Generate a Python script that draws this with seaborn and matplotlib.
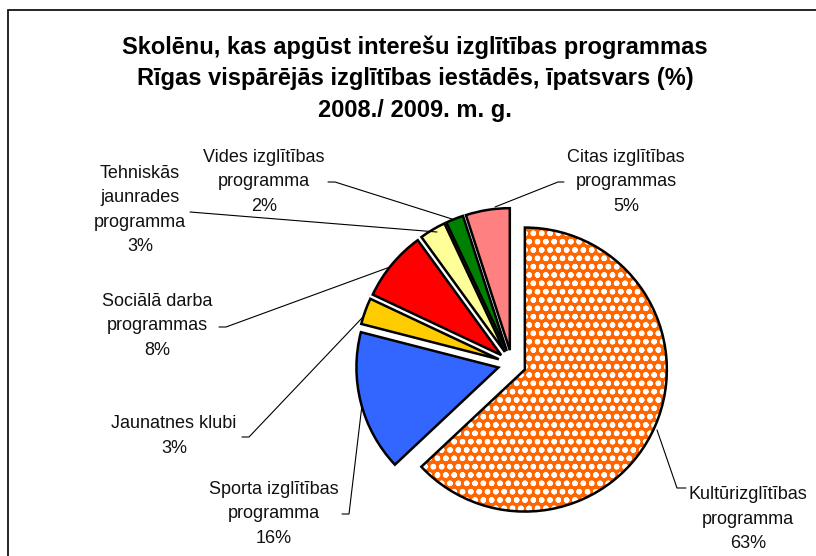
import matplotlib
matplotlib.use("Agg")
import matplotlib.pyplot as plt
import seaborn as sns
from matplotlib.patches import Rectangle

# ---- data ----
categories = [
    "Kultūrizglītības\nprogramma",
    "Sporta izglītības\nprogramma",
    "Jaunatnes klubi",
    "Sociālā darba\nprogrammas",
    "Tehniskās\njaunrades\nprogramma",
    "Vides izglītības\nprogramma",
    "Citas izglītības\nprogrammas",
]
values = [63, 16, 3, 8, 3, 2, 5]
colors = ["#FF6600", "#3366FF", "#FFCC00", "#FF0000", "#FFFF99", "#008000", "#FF8080"]
title_lines = [
    "Skolēnu, kas apgūst interešu izglītības programmas",
    "Rīgas vispārējās izglītības iestādēs, īpatsvars (%)",
    "2008./ 2009. m. g.",
]

sns.set_theme(style="white")
plt.rcParams["font.family"] = ["Liberation Sans", "DejaVu Sans"]
plt.rcParams["hatch.color"] = "white"
plt.rcParams["hatch.linewidth"] = 1.6

W, H = 816, 556
fig = plt.figure(figsize=(W / 100, H / 100), dpi=100)
ax = fig.add_axes([0, 0, 1, 1])

center = (512, H - 364)
radius = 142
explode = [14] * len(values)

# fill layer
wedges, _ = ax.pie(values, colors=colors, startangle=90, counterclock=False,
                   explode=explode, radius=radius, center=center,
                   wedgeprops=dict(linewidth=0, edgecolor="white"), frame=True)
wedges[0].set_hatch("oo")
# outline layer
ax.pie(values, colors=["none"] * len(values), startangle=90, counterclock=False,
       explode=explode, radius=radius, center=center,
       wedgeprops=dict(linewidth=1.8, edgecolor="black", facecolor="none"), frame=True)
ax.set_xlim(0, W)
ax.set_ylim(0, H)
ax.set_aspect("equal")
ax.axis("off")

# labels (text center, leader polyline) in pixel coords (y from top)
label_pos = [
    (748, 519), (274, 514), (174, 436), (157, 326), (140, 210), (264, 182), (626, 182),
]
leaders = [
    [(686, 488), (677, 488), (657, 430)],
    [(342, 514), (349, 514), (362, 405)],
    [(242, 437), (249, 437), (362, 318)],
    [(219, 327), (226, 327), (390, 267)],
    [(190, 212), (437, 232)],
    [(328, 182), (335, 182), (452, 219)],
    [(564, 182), (558, 182), (495, 207)],
]
for cat, v, (tx, ty), pts in zip(categories, values, label_pos, leaders):
    ax.text(tx, H - ty, f"{cat}\n{v}%", ha="center", va="center", fontsize=13,
            linespacing=1.57, color="#111111")
    ax.plot([p[0] for p in pts], [H - p[1] for p in pts], color="black", lw=0.8)

for i, line in enumerate(title_lines):
    ax.text(415, H - (47 + 32 * i), line, ha="center", va="center",
            fontsize=17, fontweight="bold", color="black")

# frame (only top/left visible)
ax.add_patch(Rectangle((8, -20), W + 20, H - 10 + 20, fill=False, edgecolor="black", lw=1.2))

fig.savefig("out.png", dpi=100, facecolor="white")
